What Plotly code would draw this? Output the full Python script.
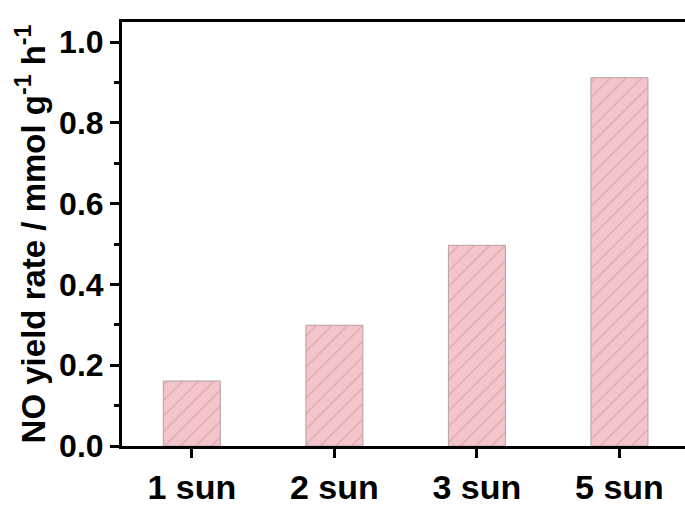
import plotly.graph_objects as go

# Light-intensity conditions and NO production rates
conditions = ["1 sun", "2 sun", "3 sun", "5 sun"]
no_yield = [0.161, 0.299, 0.497, 0.912]

y_ticks = [0.0, 0.2, 0.4, 0.6, 0.8, 1.0]
y_tick_text = ["0.0", "0.2", "0.4", "0.6", "0.8", "1.0"]

FONT = "Liberation Sans, Arial, sans-serif"

fig = go.Figure(
    go.Bar(
        x=conditions,
        y=no_yield,
        width=0.4,
        marker=dict(
            color="#F3C4CB",
            line=dict(color="#B5A0A2", width=1),
            pattern=dict(shape="/", fgcolor="#B98670", bgcolor="#F3C4CB",
                         size=11, solidity=0.1),
        ),
        showlegend=False,
    )
)

fig.update_layout(
    width=685,
    height=506,
    margin=dict(l=122, r=0, t=22, b=60),
    paper_bgcolor="white",
    plot_bgcolor="white",
    font=dict(family=FONT, color="black"),
)

fig.update_xaxes(
    type="category",
    range=[-0.49, 3.46],
    showline=True,
    linecolor="black",
    linewidth=3,
    mirror=True,
    ticks="outside",
    ticklen=9,
    tickwidth=2.5,
    tickcolor="black",
    tickfont=dict(family=FONT, size=34, color="black", weight="bold"),
    showgrid=False,
    zeroline=False,
)

fig.update_yaxes(
    range=[0, 1.05],
    tickvals=y_ticks,
    ticktext=y_tick_text,
    showline=True,
    linecolor="black",
    linewidth=3,
    ticks="outside",
    ticklen=9,
    tickwidth=2.5,
    tickcolor="black",
    minor=dict(tickvals=[0.1, 0.3, 0.5, 0.7, 0.9], ticks="outside",
               ticklen=5, tickwidth=2.5, tickcolor="black"),
    tickfont=dict(family=FONT, size=32, color="black", weight="bold"),
    title=dict(
        text="NO yield rate / mmol g<sup>-1</sup> h<sup>-1</sup>",
        font=dict(family=FONT, size=33, color="black", weight="bold"),
        standoff=4,
    ),
    showgrid=False,
    zeroline=False,
)

fig.write_html("out.html")
